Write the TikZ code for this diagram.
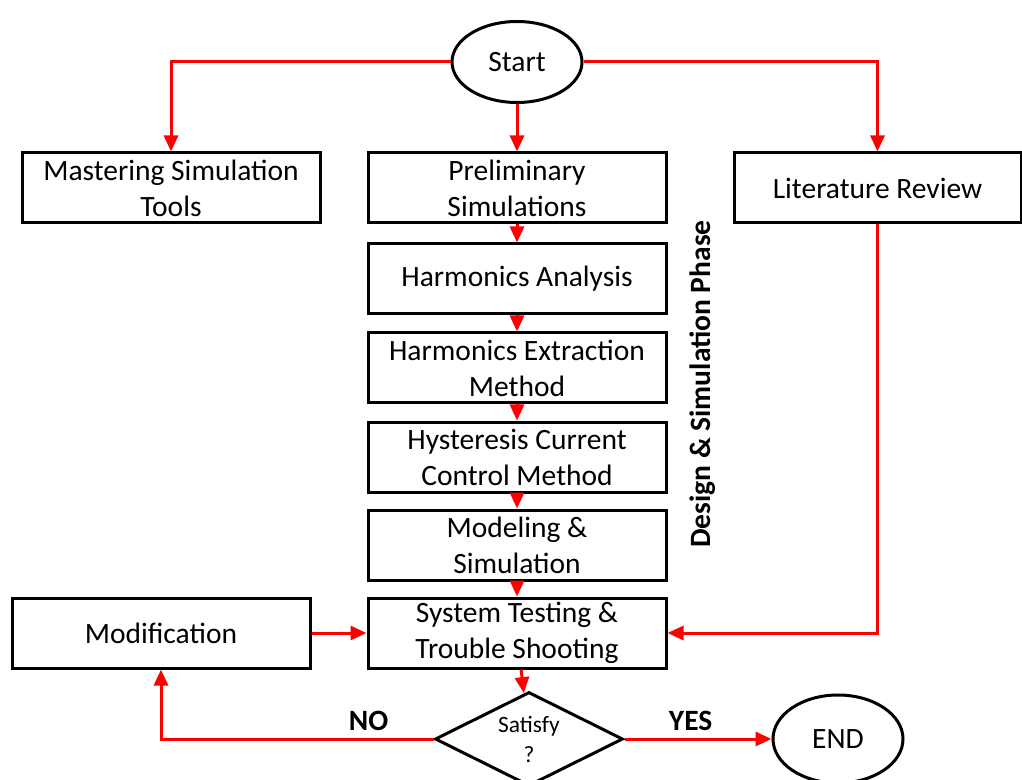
\documentclass[tikz,border=0pt]{standalone}
\usepackage{fontspec}
\setmainfont{Carlito}
\usetikzlibrary{arrows.meta, calc, shapes.geometric}

\begin{document}
\begin{tikzpicture}[x=0.5pt, y=-0.5pt, >={Triangle[length=8pt, width=7pt]},
  every node/.style={font=\fontsize{14.75}{18}\selectfont},
  stepbox/.style={draw, line width=1.5pt, align=center, minimum width=149pt, minimum height=35pt, inner sep=0pt},
  flow/.style={->, red, line width=1.5pt}]
  \useasboundingbox (0,0) rectangle (1022,780);
  \node[draw, ellipse, line width=1.5pt, minimum width=65pt, minimum height=40.5pt, inner sep=0pt] (start) at (517,62) {Start};
  \node[stepbox] (mastering) at (171,188) {Mastering Simulation\\Tools};
  \node[stepbox] (prelim) at (517,188) {Preliminary\\Simulations};
  \node[stepbox, minimum width=143.5pt] (litReview) at (877.5,188) {Literature Review};
  \node[stepbox] (harmAnalysis) at (517,279) {Harmonics Analysis};
  \node[stepbox] (harmExtract) at (517,368) {Harmonics Extraction\\Method};
  \node[stepbox] (hysteresis) at (517,457) {Hysteresis Current\\Control Method};
  \node[stepbox] (modeling) at (517,545) {Modeling \&\\Simulation};
  \node[stepbox] (sysTest) at (517,633) {System Testing \&\\Trouble Shooting};
  \node[stepbox] (modification) at (161,633) {Modification};
  \node[draw, diamond, aspect=2, line width=1.5pt, minimum width=94pt, minimum height=47pt, inner sep=0pt, align=center, font=\fontsize{11.7}{15}\selectfont] (satisfy) at (529,739) {Satisfy\\?};
  \node[draw, ellipse, line width=1.5pt, minimum width=65pt, minimum height=44pt, inner sep=0pt] (finish) at (838,739) {END};
  \node[rotate=90, font=\fontsize{14.75}{18}\selectfont\bfseries] (phase) at (703,384) {Design \& Simulation Phase};
  % top branches
  \draw[flow] (start.west) -| (mastering.north);
  \draw[flow] (start.south) -- (prelim.north);
  \draw[flow] (start.east) -| (litReview.north);
  % main column
  \draw[flow] (prelim) -- (harmAnalysis);
  \draw[flow] (harmAnalysis) -- (harmExtract);
  \draw[flow] (harmExtract) -- (hysteresis);
  \draw[flow] (hysteresis) -- (modeling);
  \draw[flow] (modeling) -- (sysTest);
  \draw[flow] (litReview.south) |- (sysTest.east);
  \draw[flow] (modification) -- (sysTest);
  \draw[flow] (sysTest) -- (satisfy);
  % decision
  \draw[flow] (satisfy.west) -| (modification.south) node[pos=0.119, above, text=black, font=\fontsize{14.75}{18}\selectfont\bfseries] {NO};
  \draw[flow] (satisfy.east) -- (finish.west) node[pos=0.45, above, text=black, font=\fontsize{14.75}{18}\selectfont\bfseries] {YES};
\end{tikzpicture}
\end{document}
